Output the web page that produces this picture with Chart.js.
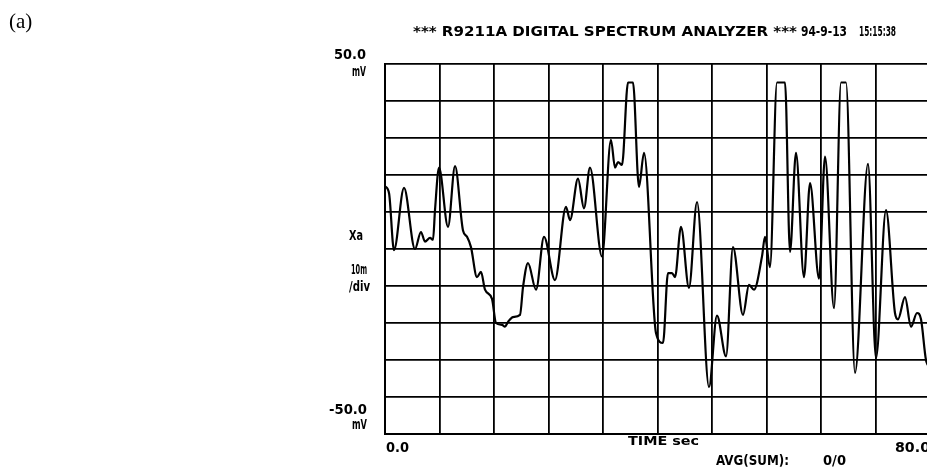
<!DOCTYPE html>
<html>
<head>
<meta charset="utf-8">
<script src="https://cdn.jsdelivr.net/npm/chart.js@4"></script>
<style>
html,body{margin:0;padding:0;background:#fff;overflow:hidden;width:927px;height:472px;}
canvas{display:block;}
</style>
</head>
<body>
<canvas id="c" width="940" height="472"></canvas>
<script>
// time (s) and amplitude (mV)
const times = [0,0.6,1.32,2.79,4.40,5.28,5.87,6.61,7.05,7.34,7.93,9.25,10.28,11.45,12.04,12.62,13.50,14.09,14.68,15.71,16.29,17.17,17.61,18.06,18.79,19.82,20.26,20.99,22.17,23.34,24.95,26.57,27.16,28.33,29.21,30.09,31.85,33.17,33.76,34.20,34.79,35.67,36.40,37.28,38.02,39.78,40.81,41.54,42.13,42.57,43.45,44.62,45.80,47.56,48.73,50.06,51.08,52.55,53.43,54.17,55.34,55.78,56.51,57.54,58.72,59.45,60.33,61.50,62.39,63.71,64.59,65.91,66.94,67.67,68.99,70.90,72.07,73.54,74.86,75.30,76.33,77.21,78.09,78.68,79.41,80];
const volts = [17,15,-0.3,16.5,0,4.6,2,3,2.5,10.5,22,6,22.4,5,3.3,0.5,-7.6,-6.2,-11,-13.5,-20,-20.5,-21,-19.7,-18.4,-17.8,-10.3,-3.8,-11,3.3,-8.4,11.4,7.8,19,11,22,-2,29.5,22,23.5,22.7,45,45,16.8,26,-22.7,-25.4,-6.5,-6.5,-7.6,6,-10.5,12.7,-37.3,-18,-29,0.5,-17.8,-9.7,-11,-2,3.3,-4.9,45,45,-0.8,26,-7.6,17.8,-8,25,-16,45,45,-33.5,23,-29.5,10.5,-17.3,-19,-13,-21,-17.3,-19,-30,-32];
const yTickLabels = ['50.0','mV','-50.0','mV'];
const xTickLabels = ['0.0','80.0'];
const titleParts = ['*** R9211A DIGITAL SPECTRUM ANALYZER ***','94-9-13','15:15:38'];
const sideLabels = ['Xa','10m','/div'];
const footLabels = ['TIME sec','AVG(SUM):','0/0'];

const F = '"Liberation Sans Narrow","DejaVu Sans Condensed",sans-serif';
function fit(ctx, text, x1, x2, yc, size){
  ctx.save();
  ctx.font = 'bold ' + size + 'px ' + F;
  ctx.textBaseline = 'middle';
  ctx.textAlign = 'left';
  const w = ctx.measureText(text).width;
  ctx.translate(x1, yc);
  ctx.scale((x2 - x1) / w, 1);
  ctx.fillText(text, 0, 0);
  ctx.restore();
}

const textPlugin = {
  id: 'texts',
  afterDraw(chart){
    const ctx = chart.ctx;
    const xs = chart.scales.x, ys = chart.scales.y;
    ctx.fillStyle = '#000';
    ctx.save();
    ctx.font = '21px "Liberation Serif","DejaVu Serif",serif';
    ctx.textBaseline = 'alphabetic';
    ctx.fillText('(a)', 9, 28);
    ctx.restore();
    fit(ctx, titleParts[0], 413, 797, 32, 14);
    fit(ctx, titleParts[1], 801, 847, 32, 14);
    fit(ctx, titleParts[2], 859, 896, 32, 14);
    const yt = ys.getPixelForValue(50), yb = ys.getPixelForValue(-50);
    const xl = xs.getPixelForValue(0), xr = xs.getPixelForValue(80);
    fit(ctx, yTickLabels[0], xl - 51, xl - 19, yt - 9, 14);
    fit(ctx, yTickLabels[1], xl - 33, xl - 19, yt + 8, 14);
    fit(ctx, yTickLabels[2], xl - 56, xl - 18, yb - 24, 14);
    fit(ctx, yTickLabels[3], xl - 33, xl - 18, yb - 9, 14);
    fit(ctx, sideLabels[0], xl - 36, xl - 22, ys.getPixelForValue(3.5), 14);
    fit(ctx, sideLabels[1], xl - 34, xl - 18, ys.getPixelForValue(-5.8), 14);
    fit(ctx, sideLabels[2], xl - 36, xl - 15, ys.getPixelForValue(-10.3), 14);
    fit(ctx, xTickLabels[0], xl + 1, xl + 24, yb + 14, 14);
    fit(ctx, xTickLabels[1], xr - 35, xr, yb + 14, 14);
    fit(ctx, footLabels[0], 628, 699, yb + 8, 13);
    fit(ctx, footLabels[1], 716, 789, yb + 27, 14);
    fit(ctx, footLabels[2], 823, 846, yb + 27, 14);
  }
};

const gridOpts = {color:'#000', lineWidth:1.8, drawTicks:false};
new Chart(document.getElementById('c'), {
  type: 'line',
  data: {
    datasets: [{
      data: times.map((t,i)=>({x:t, y:volts[i]})),
      borderColor: '#000',
      borderWidth: 2.2,
      pointRadius: 0,
      fill: false,
      cubicInterpolationMode: 'monotone'
    }]
  },
  options: {
    responsive: false,
    animation: false,
    layout: {padding: {left: 385, top: 64, right: 10, bottom: 38}},
    plugins: {legend: {display:false}, tooltip: {enabled:false}, title:{display:false}},
    scales: {
      x: {type:'linear', min:0, max:80, ticks:{display:false, stepSize:8}, grid:gridOpts, border:{color:'#000', width:2}, afterFit(s){ s.height = 0; }},
      y: {type:'linear', min:-50, max:50, ticks:{display:false, stepSize:10}, grid:gridOpts, border:{color:'#000', width:2}, afterFit(s){ s.width = 0; }}
    }
  },
  plugins: [textPlugin]
});
</script>
</body>
</html>
